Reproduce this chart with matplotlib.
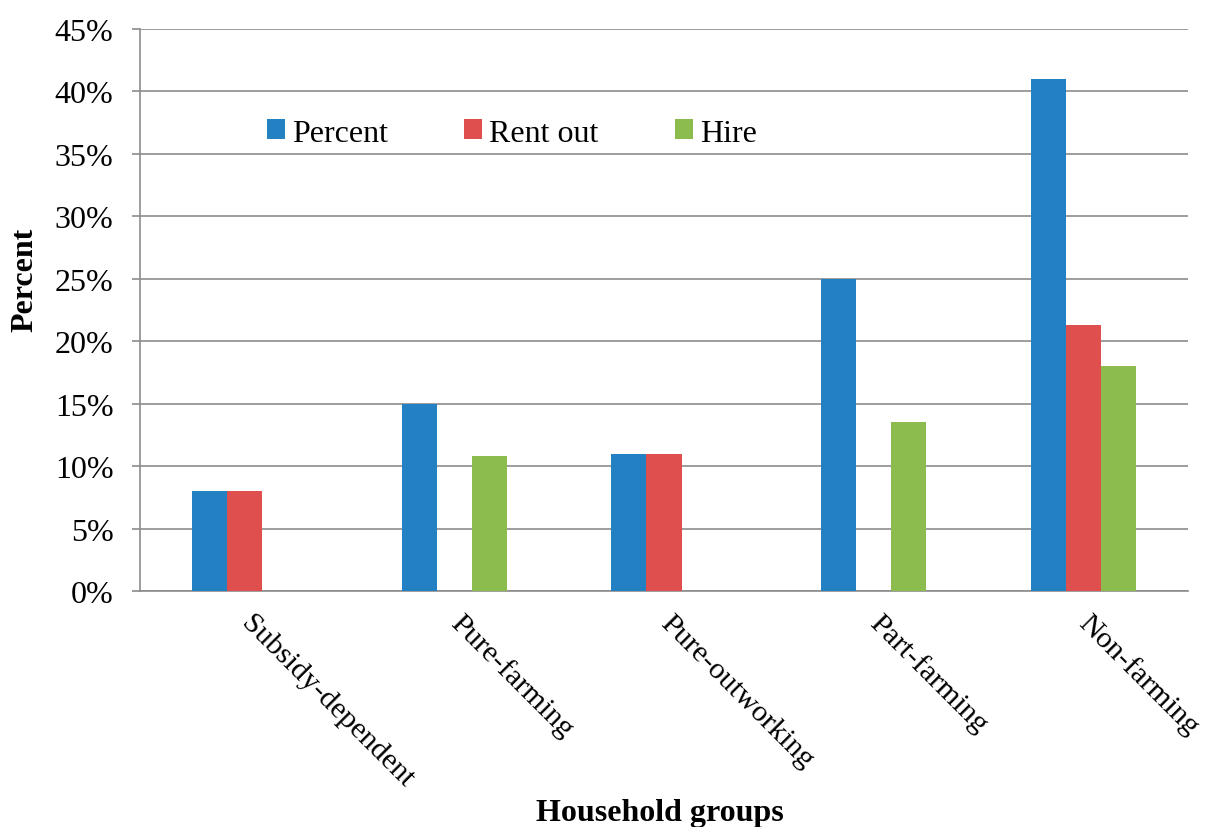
import matplotlib
matplotlib.use("Agg")
import matplotlib.pyplot as plt
import numpy as np

groups = ["Subsidy-dependent", "Pure-farming", "Pure-outworking", "Part-farming", "Non-farming"]
percent = [8.0, 15.0, 11.0, 25.0, 41.0]
rent_out = [8.0, 0.0, 11.0, 0.0, 21.3]
hire = [0.0, 10.8, 0.0, 13.5, 18.0]

series = [("Percent", percent, "#2381c3"),
          ("Rent out", rent_out, "#de4f4e"),
          ("Hire", hire, "#8cbb4e")]

plt.rcParams["font.family"] = ["Liberation Serif", "DejaVu Serif"]
grey = "#8c8c8c"
fs = 23

fig = plt.figure(figsize=(12.05, 8.28), dpi=100)
ax = fig.add_axes([140 / 1205, 1 - 592 / 828, (1188 - 140) / 1205, (592 - 30) / 828])

x = np.arange(len(groups))
w = 0.167
for i, (name, vals, col) in enumerate(series):
    ax.bar(x + (i - 1) * w, vals, w, color=col, label=name, zorder=3)

ax.set_xlim(-0.5, len(groups) - 0.5)
ax.set_ylim(0, 45)
ax.set_yticks(np.arange(0, 46, 5))
ax.set_yticklabels([f"{v}%" for v in range(0, 46, 5)], fontsize=fs)
ax.yaxis.grid(True, color=grey, lw=1.2, zorder=0)
ax.set_axisbelow(True)

ax.set_xticks(x)
ax.set_xticklabels(groups, fontsize=21.8, rotation=-45, ha="left", va="center",
                   rotation_mode="anchor")
ax.tick_params(axis="x", length=0, pad=20)
ax.tick_params(axis="y", length=6, width=1.2, color=grey, pad=13)

for s in ["top", "right"]:
    ax.spines[s].set_visible(False)
for s in ["left", "bottom"]:
    ax.spines[s].set_color(grey)
    ax.spines[s].set_linewidth(1.2)

ax.legend(loc="center left", bbox_to_anchor=(238 / 1205, 1 - 134 / 828),
          bbox_transform=fig.transFigure, ncol=3, frameon=False, fontsize=fs,
          handlelength=0.56, handleheight=0.56, handletextpad=0.22, columnspacing=2.4)

fig.text(25 / 1205, 1 - 280 / 828, "Percent", rotation=90, fontsize=fs,
         fontweight="bold", ha="center", va="center")
fig.text(660 / 1205, 1 - 814 / 828, "Household groups", fontsize=fs,
         fontweight="bold", ha="center", va="center")

fig.savefig("out.png", dpi=100)
